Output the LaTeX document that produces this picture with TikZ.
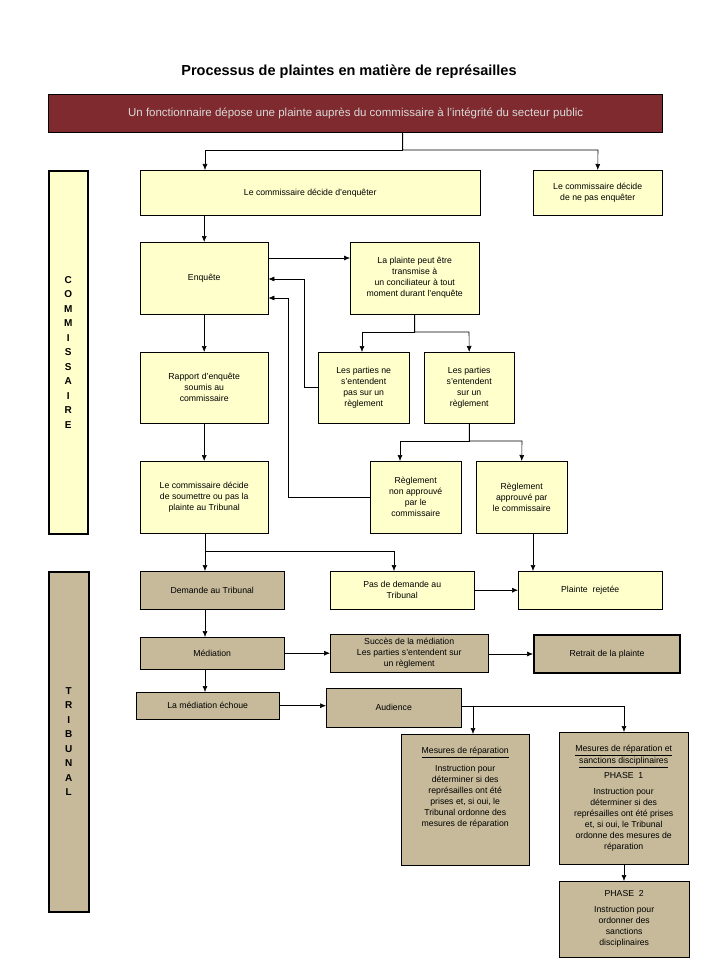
\documentclass[tikz,border=0pt]{standalone}
\usepackage{fontspec}
\setmainfont{Liberation Sans}
\usepackage{tikz}
\usetikzlibrary{arrows.meta, positioning}
\definecolor{paleyellow}{HTML}{FFFFCC}
\definecolor{tan}{HTML}{C6BA9A}
\definecolor{darkred}{HTML}{7E2A2E}
% box from (x1,y1) to (x2,y2) in pixel units
\newcommand{\pbox}[7]{\node[#6, anchor=north west, minimum width=#4pt-#2pt, minimum height=#5pt-#3pt] (#1) at (#2,#3) {#7};}
\begin{document}
\begin{tikzpicture}[
        x=1pt, y=-1pt,
        yel/.style={rectangle, draw=black, fill=paleyellow, inner sep=1pt, align=center, font=\fontsize{8.7}{11}\selectfont},
        brown/.style={rectangle, draw=black, fill=tan, inner sep=1pt, align=center, font=\fontsize{8.7}{11}\selectfont},
        side/.style={rectangle, draw=black, line width=1.6pt, align=center, font=\fontsize{10}{14.5}\selectfont\bfseries},
        relation/.style={-{Latex[length=6pt,width=5pt]}, semithick}
        ]
        \useasboundingbox (0,0) rectangle (720,960);
        \node[font=\fontsize{14.5}{16}\selectfont\bfseries] (title) at (349,72) {Processus de plaintes en matière de représailles};
        \pbox{plainte}{48}{94}{662}{132}{rectangle, draw=black, line width=1.4pt, fill=darkred, text=black!15, font=\fontsize{11.5}{13}\selectfont}{Un fonctionnaire dépose une plainte auprès du commissaire à l’intégrité du secteur public}

        % Commissaire
        \pbox{comm}{48}{170}{87}{533}{side, fill=paleyellow}{C\\O\\M\\M\\I\\S\\S\\A\\I\\R\\E}
        \pbox{enqueter}{140}{170}{480}{215}{yel}{Le commissaire décide d’enquêter}
        \pbox{pasenq}{533}{170}{662}{215}{yel}{Le commissaire décide\\de ne pas enquêter}
        \pbox{enquete}{140}{242}{268}{314}{yel}{Enquête}
        \pbox{concil}{350}{242}{479}{314}{yel}{La plainte peut être\\transmise à\\un conciliateur à tout\\moment durant l’enquête}
        \pbox{rapport}{140}{352}{268}{423}{yel}{Rapport d’enquête\\soumis au\\commissaire}
        \pbox{nonent}{318}{352}{409}{423}{yel}{Les parties ne\\s’entendent\\pas sur un\\règlement}
        \pbox{entent}{424}{352}{514}{423}{yel}{Les parties\\s’entendent\\sur un\\règlement}
        \pbox{soumet}{140}{461}{268}{533}{yel}{Le commissaire décide\\de soumettre ou pas la\\plainte au Tribunal}
        \pbox{nonappr}{370}{461}{461}{533}{yel}{Règlement\\non approuvé\\par le\\commissaire}
        \pbox{appr}{476}{461}{567}{533}{yel}{Règlement\\approuvé par\\le commissaire}

        % Tribunal
        \pbox{trib}{48}{571}{88}{911}{side, fill=tan}{T\\R\\I\\B\\U\\N\\A\\L}
        \pbox{demande}{140}{571}{284}{609}{brown}{Demande au Tribunal}
        \pbox{pasdem}{330}{571}{474}{609}{yel}{Pas de demande au\\Tribunal}
        \pbox{rejet}{518}{571}{662}{609}{yel}{Plainte~ rejetée}
        \pbox{mediation}{140}{637}{284}{669}{brown}{Médiation}
        \pbox{succes}{330}{634}{488}{672}{brown, inner sep=0pt}{Succès de la médiation\\Les parties s’entendent sur\\un règlement}
        \pbox{retrait}{533}{634}{679}{672}{brown, line width=2pt}{Retrait de la plainte}
        \pbox{echoue}{136}{692}{279}{719}{brown}{La médiation échoue}
        \pbox{audience}{326}{688}{461}{727}{brown}{Audience}
        \pbox{repar}{401}{734}{529}{865}{brown}{\underline{Mesures de réparation}\\[7pt]Instruction pour\\déterminer si des\\représailles ont été\\prises et, si oui, le\\Tribunal ordonne des\\mesures de réparation\\[14pt]}
        \pbox{phase1}{559}{732}{688}{864}{brown}{\underline{Mesures de réparation et}\\[1pt]\underline{sanctions disciplinaires}\\[4pt]PHASE~ 1\\[5pt]Instruction pour\\déterminer si des\\représailles ont été prises\\et, si oui, le Tribunal\\ordonne des mesures de\\réparation}
        \pbox{phase2}{559}{881}{689}{957}{brown}{PHASE~ 2\\[5pt]Instruction pour\\ordonner des\\sanctions\\disciplinaires}

        % Relations
        \draw[relation] (plainte.south) ++(47,0) |- (205,150) -- (enqueter.north -| 205,0);
        \draw[relation] (plainte.south) ++(47,0) |- (598,150) -- (pasenq.north);
        \draw[relation] (enqueter.south -| enquete) -- (enquete);
        \draw[relation] (enquete.east |- 0,258) -- (concil.west |- 0,258);
        \draw[relation] (nonent.west) -| (304,279) -- (enquete.east |- 0,279);
        \draw[relation] (nonappr.west) -| (288,298) -- (enquete.east |- 0,298);
        \draw[relation] (enquete) -- (rapport);
        \draw[relation] (rapport) -- (soumet);
        \draw[relation] (concil.south) |- (362,332) -- (nonent.north -| 362,0);
        \draw[relation] (concil.south) |- (469,332) -- (entent.north);
        \draw[relation] (entent.south) |- (400,441) -- (nonappr.north -| 400,0);
        \draw[relation] (entent.south) |- (522,441) -- (appr.north);
        \draw[relation] (soumet.south -| 205,0) |- (394,551) -- (pasdem.north -| 394,0);
        \draw[relation] (soumet.south -| 205,0) -- (demande.north -| 205,0);
        \draw[relation] (appr.south -| 533,0) -- (rejet.north -| 533,0);
        \draw[relation] (pasdem) -- (rejet);
        \draw[relation] (demande.south -| 205,0) -- (mediation.north -| 205,0);
        \draw[relation] (mediation.east) -- (succes.west |- mediation.east);
        \draw[relation] (succes.east |- retrait.west) -- (retrait.west);
        \draw[relation] (mediation.south -| 205,0) -- (echoue.north -| 205,0);
        \draw[relation] (echoue.east) -- (audience.west |- echoue.east);
        \draw[relation] (audience.east |- 0,706) -| (repar.north -| 473,0);
        \draw[relation] (audience.east |- 0,706) -| (phase1.north -| 624,0);
        \draw[relation] (phase1.south -| 624,0) -- (phase2.north -| 624,0);
\end{tikzpicture}
\end{document}
